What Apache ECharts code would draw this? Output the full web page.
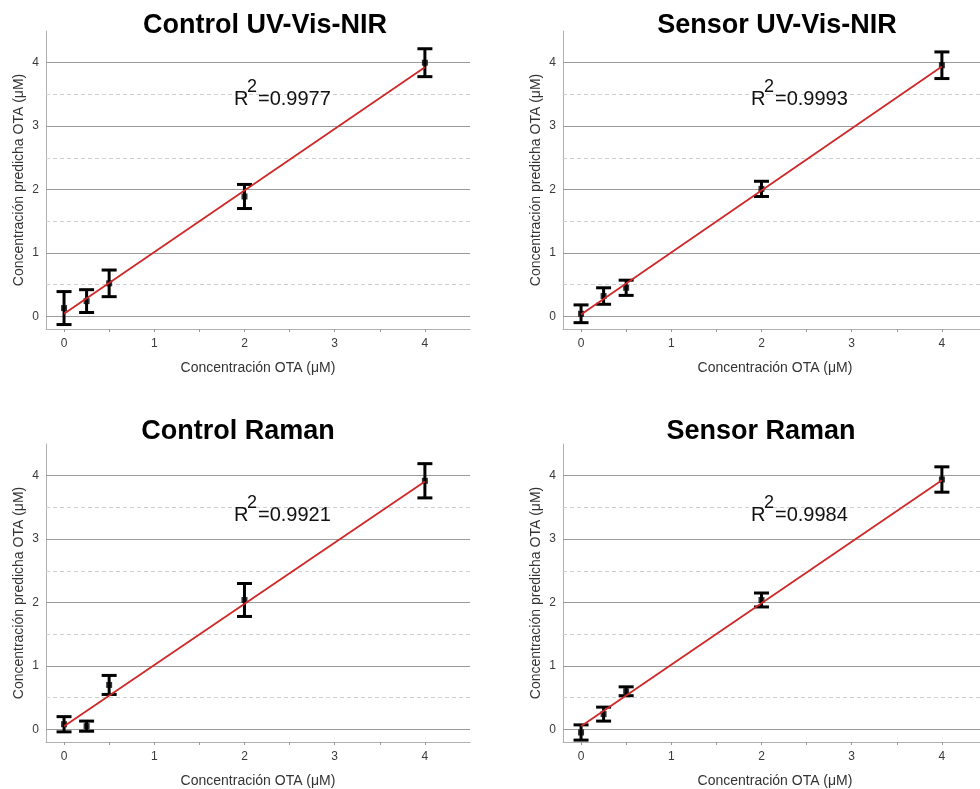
<!DOCTYPE html>
<html>
<head>
<meta charset="utf-8">
<script src="https://cdn.jsdelivr.net/npm/echarts@6/dist/echarts.min.js"></script>
<style>
html,body{margin:0;padding:0;background:#fff;}
#chart{width:980px;height:789px;}
</style>
</head>
<body>
<div id="chart"></div>
<script>
// ---- data ----
const xValues = [0, 0.25, 0.5, 2, 4];
const panelTitles = ['Control UV-Vis-NIR', 'Sensor UV-Vis-NIR', 'Control Raman', 'Sensor Raman'];
const r2Values = ['=0.9977', '=0.9993', '=0.9921', '=0.9984'];

const ctrlUvMean = [0.13, 0.24, 0.52, 1.89, 4.00];
const ctrlUvErr  = [0.26, 0.18, 0.21, 0.19, 0.22];
const sensUvMean = [0.04, 0.32, 0.45, 2.01, 3.96];
const sensUvErr  = [0.14, 0.13, 0.12, 0.12, 0.21];
const ctrlRamanMean = [0.08, 0.05, 0.70, 2.04, 3.92];
const ctrlRamanErr  = [0.12, 0.08, 0.15, 0.26, 0.27];
const sensRamanMean = [-0.05, 0.24, 0.60, 2.04, 3.94];
const sensRamanErr  = [0.12, 0.11, 0.07, 0.11, 0.20];

// fitted lines: value at x = 0 and at x = 4
const fitX = [0, 4];
const ctrlUvFit = [0.04, 3.93];
const sensUvFit = [0.03, 3.94];
const ctrlRamanFit = [0.05, 3.91];
const sensRamanFit = [0.05, 3.93];

const xTickValues = [0, 0.5, 1, 1.5, 2, 2.5, 3, 3.5, 4];
const xLabelValues = [0, 1, 2, 3, 4];
const yLabelValues = [0, 1, 2, 3, 4];
const gridSolidValues = [0, 1, 2, 3, 4];
const gridDashedValues = [0.5, 1.5, 2.5, 3.5];
const axisMin = -0.2, axisMax = 4.5;
const xName = 'Concentración OTA (\u03bcM)';
const yName = 'Concentración predicha OTA (\u03bcM)';

const means = [ctrlUvMean, sensUvMean, ctrlRamanMean, sensRamanMean];
const errs = [ctrlUvErr, sensUvErr, ctrlRamanErr, sensRamanErr];
const fits = [ctrlUvFit, sensUvFit, ctrlRamanFit, sensRamanFit];

// ---- layout ----
const FONT = '"Liberation Sans", Arial, sans-serif';
const grids = [
  {left: 46, top: 31, width: 424, height: 298},
  {left: 563, top: 31, width: 424, height: 298},
  {left: 46, top: 444, width: 424, height: 298},
  {left: 563, top: 444, width: 424, height: 298}
];
const titleCenters = [[265, 26], [777, 26], [238, 432], [761, 432]];

const chart = echarts.init(document.getElementById('chart'), null, {renderer: 'canvas'});

const isInt = v => Math.abs(v - Math.round(v)) < 1e-9;

const xAxes = grids.map((g, i) => ({
  type: 'value', gridIndex: i, min: axisMin, max: axisMax,
  name: xName, nameLocation: 'middle', nameGap: 32,
  nameTextStyle: {fontFamily: FONT, fontSize: 14, color: '#333'},
  axisLine: {show: true, onZero: false, lineStyle: {color: '#b0b0b0', width: 1}},
  axisTick: {show: true, customValues: xTickValues, length: 3, lineStyle: {color: '#999'}},
  axisLabel: {customValues: xLabelValues, fontFamily: FONT, fontSize: 12, color: '#3a3a3a', margin: 9,
    formatter: v => isInt(v) && v >= 0 && v <= 4 ? String(Math.round(v)) : ''},
  splitLine: {show: false}
}));
const yAxes = grids.map((g, i) => ({
  type: 'value', gridIndex: i, min: axisMin, max: axisMax,
  name: yName, nameLocation: 'middle', nameGap: 20,
  nameTextStyle: {fontFamily: FONT, fontSize: 14, color: '#333'},
  axisLine: {show: true, onZero: false, lineStyle: {color: '#b0b0b0', width: 1}},
  axisTick: {show: false},
  axisLabel: {customValues: yLabelValues, fontFamily: FONT, fontSize: 12, color: '#3a3a3a', margin: 7,
    formatter: v => isInt(v) && v >= 0 && v <= 4 ? String(Math.round(v)) : ''},
  splitLine: {show: false}
}));

const series = [];
grids.forEach((g, i) => {
  const gridLines = gridSolidValues.map(v => ({yAxis: v, lineStyle: {color: '#9a9a9a', type: 'solid', width: 1}}))
    .concat(gridDashedValues.map(v => ({yAxis: v, lineStyle: {color: '#cfcfcf', type: [4, 3], width: 1}})));
  series.push({
    type: 'custom', xAxisIndex: i, yAxisIndex: i, z: 3,
    data: xValues.map((x, k) => [x, means[i][k], errs[i][k]]),
    renderItem: function (params, api) {
      const x = api.value(0), y = api.value(1), e = api.value(2);
      const top = api.coord([x, y + e]);
      const bot = api.coord([x, y - e]);
      const cap = 7.5;
      const style = {stroke: '#000', lineWidth: 3};
      return {
        type: 'group',
        children: [
          {type: 'line', shape: {x1: top[0], y1: top[1], x2: bot[0], y2: bot[1]}, style: style},
          {type: 'line', shape: {x1: top[0] - cap, y1: top[1], x2: top[0] + cap, y2: top[1]}, style: style},
          {type: 'line', shape: {x1: bot[0] - cap, y1: bot[1], x2: bot[0] + cap, y2: bot[1]}, style: style}
        ]
      };
    },
    markLine: {silent: true, symbol: 'none', label: {show: false}, data: gridLines, z: 1, animation: false}
  });
  series.push({
    type: 'scatter', xAxisIndex: i, yAxisIndex: i, z: 4,
    symbol: 'rect', symbolSize: 6, itemStyle: {color: '#000'},
    data: xValues.map((x, k) => [x, means[i][k]])
  });
  series.push({
    type: 'line', xAxisIndex: i, yAxisIndex: i, z: 5,
    symbol: 'none', lineStyle: {color: '#d02828', width: 1.8},
    data: fitX.map((x, k) => [x, fits[i][k]])
  });
});

const graphics = [];
grids.forEach((g, i) => {
  graphics.push({
    type: 'text', x: titleCenters[i][0], y: titleCenters[i][1], z: 10,
    style: {text: panelTitles[i], font: 'bold 27px ' + FONT, fill: '#000', textAlign: 'center', textVerticalAlign: 'middle'}
  });
  const bx = g.left + 188, by = g.top + (i < 2 ? 78 : 81);
  graphics.push({type: 'text', x: bx, y: by, z: 10,
    style: {text: 'R', font: '20px ' + FONT, fill: '#111', textAlign: 'left', textVerticalAlign: 'bottom'}});
  graphics.push({type: 'text', x: bx + 13, y: by - 13, z: 10,
    style: {text: '2', font: '18px ' + FONT, fill: '#111', textAlign: 'left', textVerticalAlign: 'bottom'}});
  graphics.push({type: 'text', x: bx + 24, y: by, z: 10,
    style: {text: r2Values[i], font: '20px ' + FONT, fill: '#111', textAlign: 'left', textVerticalAlign: 'bottom'}});
});

chart.setOption({
  animation: false,
  backgroundColor: '#fff',
  grid: grids.map(g => Object.assign({containLabel: false, outerBoundsMode: 'none'}, g)),
  xAxis: xAxes,
  yAxis: yAxes,
  series: series,
  graphic: graphics
});
</script>
</body>
</html>
